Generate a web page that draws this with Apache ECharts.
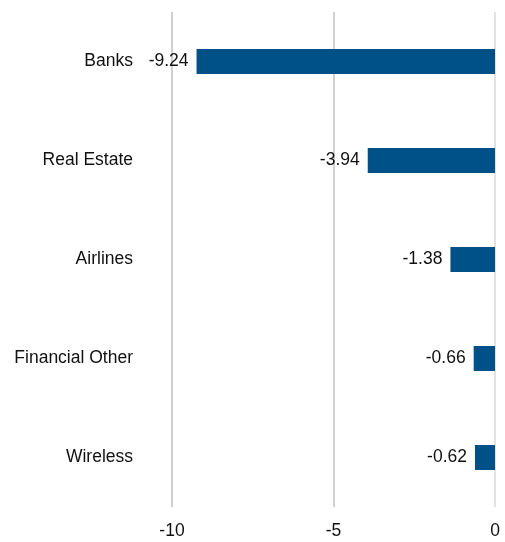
<!DOCTYPE html>
<html><head><meta charset="utf-8">
<script src="https://cdn.jsdelivr.net/npm/echarts@6/dist/echarts.min.js"></script>
<style>html,body{margin:0;padding:0;background:#fff}#c{width:505px;height:542px}</style>
</head><body><div id="c"></div>
<script>
const categories = ["Banks", "Real Estate", "Airlines", "Financial Other", "Wireless"];
const values = [-9.24, -3.94, -1.38, -0.66, -0.62];
const xTicks = [-10, -5, 0];
const FONT = "'Liberation Sans', Arial, sans-serif";
const chart = echarts.init(document.getElementById('c'), null, {renderer: 'canvas'});
chart.setOption({
  animation: false,
  grid: {left: 172, right: 10, top: 12, bottom: 35, containLabel: false, outerBoundsMode: 'none'},
  xAxis: {
    type: 'value', min: -10, max: 0, interval: 5,
    axisLine: {show: false}, axisTick: {show: false},
    splitLine: {show: true, lineStyle: {color: ['#c0c0c0', '#c0c0c0', '#d9d9d9'], width: 1.5}},
    axisLabel: {fontFamily: FONT, fontSize: 17.5, color: '#111', margin: 15,
      formatter: v => xTicks.includes(v) ? String(v) : ''}
  },
  yAxis: {
    type: 'category', data: categories, inverse: true,
    axisLine: {show: false}, axisTick: {show: false},
    axisLabel: {fontFamily: FONT, fontSize: 17.5, color: '#111', margin: 39, padding: [2, 0, 0, 0]}
  },
  series: [{
    type: 'bar', data: values, barWidth: 25,
    itemStyle: {color: '#005187'},
    label: {show: true, position: 'left', distance: 8, fontFamily: FONT, fontSize: 17.5, color: '#111',
      padding: [2, 0, 0, 0], formatter: p => p.value.toFixed(2)}
  }]
});
</script></body></html>
